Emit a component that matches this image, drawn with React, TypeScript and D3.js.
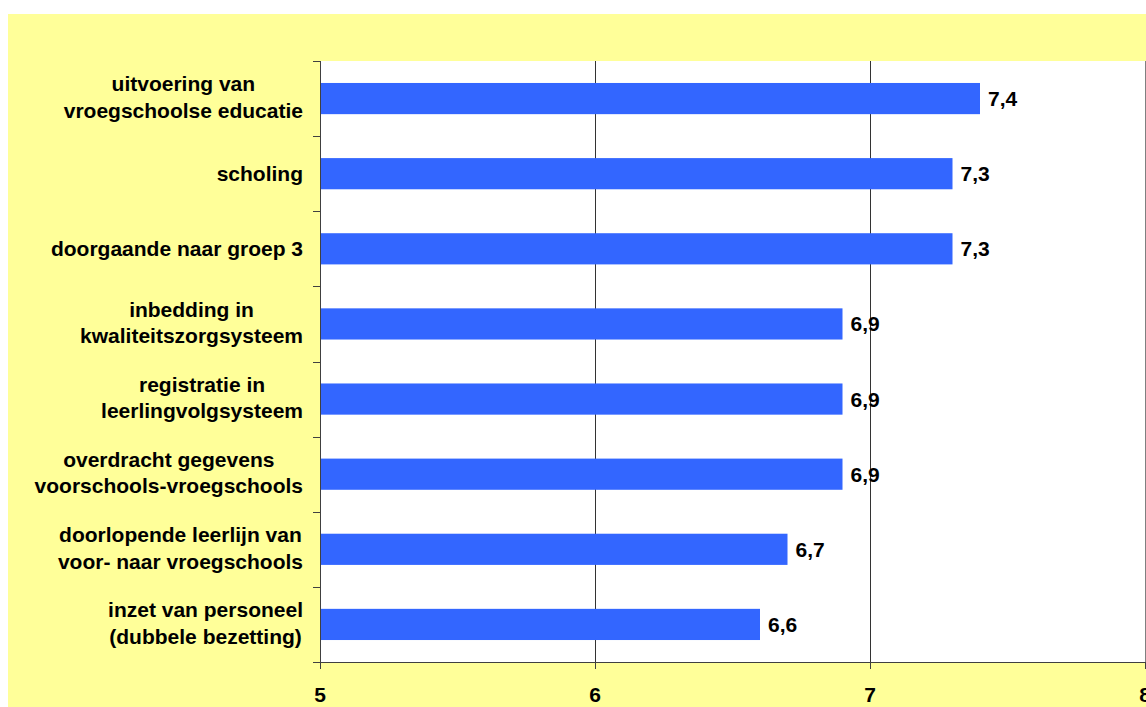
import React from "react";
import * as d3 from "d3";

const categories: string[][] = [
  ["uitvoering van", "vroegschoolse educatie"],
  ["scholing"],
  ["doorgaande naar groep 3"],
  ["inbedding in", "kwaliteitszorgsysteem"],
  ["registratie in", "leerlingvolgsysteem"],
  ["overdracht gegevens", "voorschools-vroegschools"],
  ["doorlopende leerlijn van", "voor- naar vroegschools"],
  ["inzet van personeel", "(dubbele bezetting)"],
];
const values: number[] = [7.4, 7.3, 7.3, 6.9, 6.9, 6.9, 6.7, 6.6];
const xTicks: number[] = [5, 6, 7, 8];

const W = 1146;
const H = 707;
const FONT = "'Liberation Sans', Arial, sans-serif";
const FS = 21;

function measure(text: string): number {
  if (typeof document === "undefined") return text.length * 11;
  const c = document.createElement("canvas");
  const ctx = c.getContext("2d");
  if (!ctx) return text.length * 11;
  ctx.font = `bold ${FS}px ${FONT}`;
  return ctx.measureText(text).width;
}

export default function App() {
  const left = 320;
  const right = 1145;
  const top = 61;
  const bottom = 662;
  const x = d3.scaleLinear().domain([5, 8]).range([left, right]);
  const ids = categories.map((_, i) => String(i));
  const y = d3.scaleBand().domain(ids).range([top, bottom]).paddingInner(0.585).paddingOuter(0.2925);
  const band = (bottom - top) / categories.length;
  const labelRight = 303;
  const lineH = 26.5;

  return (
    <svg
      width={W}
      height={H}
      style={{ position: "absolute", left: 0, top: 0, background: "#fff" }}
      fontFamily={FONT}
    >
      <rect x={8} y={14} width={W - 8} height={H - 14} fill="#FFFF99" />
      <rect x={left} y={top} width={right - left} height={bottom - top} fill="#fff" />
      {/* gridlines */}
      {xTicks.slice(1).map((t) => (
        <line
          key={"g" + t}
          x1={Math.round(x(t)) + 0.5}
          x2={Math.round(x(t)) + 0.5}
          y1={top}
          y2={bottom}
          stroke={t === 8 ? "#808080" : "#333"}
          strokeWidth={1}
        />
      ))}
      {/* bars */}
      {values.map((v, i) => (
        <rect
          key={"b" + i}
          x={x(5)}
          y={y(String(i))}
          width={x(v) - x(5)}
          height={y.bandwidth()}
          fill="#3366FF"
        />
      ))}
      {/* value labels */}
      {values.map((v, i) => (
        <text
          key={"v" + i}
          x={x(v) + 8}
          y={(y(String(i)) as number) + y.bandwidth() / 2 + 7.5}
          fontSize={FS}
          fontWeight="bold"
          fill="#000"
        >
          {String(v).replace(".", ",")}
        </text>
      ))}
      {/* left axis */}
      <line x1={left + 0.5} x2={left + 0.5} y1={top} y2={bottom} stroke="#404040" />
      {d3.range(categories.length + 1).map((k) => (
        <line
          key={"lt" + k}
          x1={left - 7}
          x2={left}
          y1={Math.round(top + k * band) + 0.5}
          y2={Math.round(top + k * band) + 0.5}
          stroke="#404040"
        />
      ))}
      {/* bottom axis */}
      <line x1={left} x2={right + 1} y1={bottom + 0.5} y2={bottom + 0.5} stroke="#404040" />
      {xTicks.map((t) => (
        <g key={"xt" + t}>
          <line
            x1={Math.round(x(t)) + 0.5}
            x2={Math.round(x(t)) + 0.5}
            y1={bottom}
            y2={bottom + 7}
            stroke="#404040"
          />
          <text x={x(t)} y={702} textAnchor="middle" fontSize={FS} fontWeight="bold" fill="#000">
            {t}
          </text>
        </g>
      ))}
      {/* category labels */}
      {categories.map((lines, i) => {
        const maxW = Math.max(...lines.map(measure));
        const cx = labelRight - maxW / 2;
        const cy = (y(String(i)) as number) + y.bandwidth() / 2;
        const n = lines.length;
        return (
          <text key={"c" + i} fontSize={FS} fontWeight="bold" fill="#000" textAnchor="middle">
            {lines.map((l, j) => (
              <tspan
                key={j}
                x={cx}
                y={n === 1 ? cy + 7.5 : cy + 6 + (j - (n - 1) / 2) * lineH}
              >
                {l}
              </tspan>
            ))}
          </text>
        );
      })}
    </svg>
  );
}
